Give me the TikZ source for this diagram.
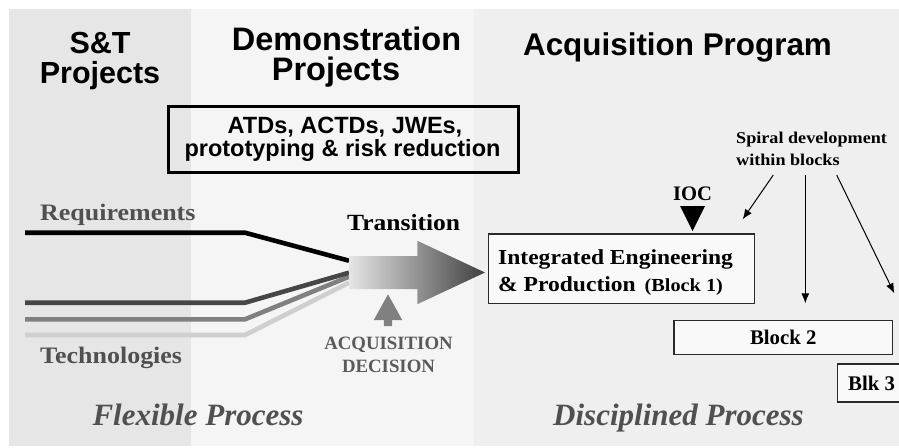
\documentclass[tikz,border=0pt]{standalone}
\usepackage{fontspec}
\setmainfont{Liberation Serif}
\setsansfont{Liberation Sans}
\newfontfamily\wideserif[FakeStretch=1.1]{Liberation Serif}
\usetikzlibrary{arrows.meta}

\definecolor{panelA}{HTML}{E6E6E6}
\definecolor{panelB}{HTML}{F5F5F5}
\definecolor{panelC}{HTML}{EFEFEF}
\definecolor{inkgray}{HTML}{505050}
\definecolor{decgray}{HTML}{5A5A5A}
\definecolor{trackdark}{HTML}{464646}
\definecolor{trackmid}{HTML}{808080}
\definecolor{tracklight}{HTML}{CFCFCF}
\definecolor{boxfill}{HTML}{F9F9F9}
\definecolor{boxline}{HTML}{2A2A2A}

\begin{document}
\begin{tikzpicture}[x=1pt,y=-1pt,
  title/.style={font=\sffamily\bfseries\fontsize{#1}{#1}\selectfont, inner sep=0pt, anchor=base},
  boxtext/.style={font=\sffamily\bfseries\fontsize{23.5}{23.5}\selectfont, inner sep=0pt, anchor=base},
  widelabel/.style={font=\wideserif\bfseries\fontsize{#1}{#1}\selectfont, inner sep=0pt, anchor=base west},
  plainlabel/.style={font=\bfseries\fontsize{#1}{#1}\selectfont, inner sep=0pt, anchor=base},
  processlabel/.style={font=\bfseries\itshape\fontsize{31}{31}\selectfont, text=inkgray, inner sep=0pt, anchor=base},
  track/.style={line width=4.6pt},
  blockbox/.style={draw=boxline, fill=boxfill, line width=1.3pt, inner sep=0pt},
  spiralarrow/.style={line width=1pt, -{Latex[length=10pt,width=8pt]}}
]
\useasboundingbox (0,0) rectangle (899,447);
\fill[white] (0,0) rectangle (899,447);

% three phase panels
\fill[panelA] (9,9) rectangle (191,446);
\fill[panelB] (191,9) rectangle (474,446);
\fill[panelC] (474,9) rectangle (899,446);

% phase titles
\node[title=30.5] (st1) at (100,53.3) {S\&T};
\node[title=30.5] (st2) at (100,83.3) {Projects};
\node[title=32.5] (demo1) at (346.5,50) {Demonstration};
\node[title=32.5] (demo2) at (336,80) {Projects};
\node[title=31.4] (acq) at (677.5,55) {Acquisition Program};

% demonstration activities box
\node[draw, line width=2.6pt, minimum width=350.4pt, minimum height=66.4pt, inner sep=0pt] (atd) at (343.5,139.5) {};
\node[boxtext] (atd1) at (345,133.3) {ATDs, ACTDs, JWEs,};
\node[boxtext] (atd2) at (342.5,156) {prototyping \& risk reduction};

% requirement and technology tracks converging on the transition arrow
\coordinate (l0) at (25,335);   \coordinate (l1) at (245,335);   \coordinate (l2) at (349,282.7);
\coordinate (m0) at (25,319.3); \coordinate (m1) at (245,319.3); \coordinate (m2) at (349,276.7);
\coordinate (d0) at (25,302.7); \coordinate (d1) at (245,302.7); \coordinate (d2) at (349,272.7);
\coordinate (r0) at (25,232.7); \coordinate (r1) at (245,232.7); \coordinate (r2) at (349,260.7);
\draw[track, tracklight] (l0) -- (l1) -- (l2);
\draw[track, trackmid] (m0) -- (m1) -- (m2);
\draw[track, trackdark] (d0) -- (d1) -- (d2);
\draw[track, black] (r0) -- (r1) -- (r2);

\node[widelabel=23.6, text=inkgray] (req) at (40,220) {Requirements};
\node[widelabel=23.6, text=inkgray] (tech) at (40,363) {Technologies};

% transition arrow
\coordinate (tail) at (349,272.5);
\shade[left color=black!10, middle color=black!33, right color=black!75]
  (tail) ++(0,-16.5) -- ++(68.3,0) -- ++(0,-15.2) -- ++(67.7,31.7)
  -- ++(-67.7,31.7) -- ++(0,-15.2) -- ++(-68.3,0) -- cycle;
\node[widelabel=23.2] (trans) at (347,230) {Transition};

% acquisition decision pointer
\coordinate (dec) at (388,326);
\fill[black!50] (dec) ++(-4.2,0) -- ++(0,-6) -- ++(-10,0) -- ++(14.2,-25.7)
  -- ++(14.2,25.7) -- ++(-10,0) -- ++(0,6) -- cycle;
\node[plainlabel=18.8, text=decgray] (dec1) at (388.5,349) {ACQUISITION};
\node[plainlabel=18.8, text=decgray] (dec2) at (388.5,372) {DECISION};

% block 1
\node[blockbox, minimum width=265.8pt, minimum height=69.4pt] (iep) at (621.5,268.7) {};
\node[widelabel=21.4] (iep1) at (498,264.3) {Integrated Engineering};
\node[widelabel=21.4] (iep2) at (498,291.7) {\& Production\hspace{9pt}\fontsize{18.4}{18.4}\selectfont(Block 1)};

% initial operational capability marker
\node[plainlabel=20.6] (ioc) at (692.5,200.7) {IOC};
\fill[black] (680,206) -- (705,206) -- (692.5,231) -- cycle;

% later blocks
\node[blockbox, minimum width=218.7pt, minimum height=33.7pt, font=\bfseries\fontsize{20.8}{20.8}\selectfont] (blk2) at (783.3,337.5) {Block 2};
\node[blockbox, minimum width=80pt, minimum height=38.1pt] (blk3) at (877.3,383) {};
\node[plainlabel=20.8, anchor=base west] (blk3t) at (848,390.7) {Blk 3};

% spiral development note
\node[widelabel=16.5] (spiral1) at (736,143.3) {Spiral development};
\node[widelabel=16.5] (spiral2) at (736,165) {within blocks};
\coordinate (s1) at (773.3,175);  \coordinate (e1) at (742.7,219.3);
\coordinate (s2) at (805.3,175);  \coordinate (e2) at (805.3,303.3);
\coordinate (s3) at (836.7,175);  \coordinate (e3) at (894.3,293.3);
\draw[spiralarrow] (s1) -- (e1);
\draw[spiralarrow] (s2) -- (e2);
\draw[spiralarrow] (s3) -- (e3);

% process character
\node[processlabel] (flex) at (198,425) {Flexible Process};
\node[processlabel] (disc) at (678.5,425) {Disciplined Process};
\end{tikzpicture}
\end{document}
